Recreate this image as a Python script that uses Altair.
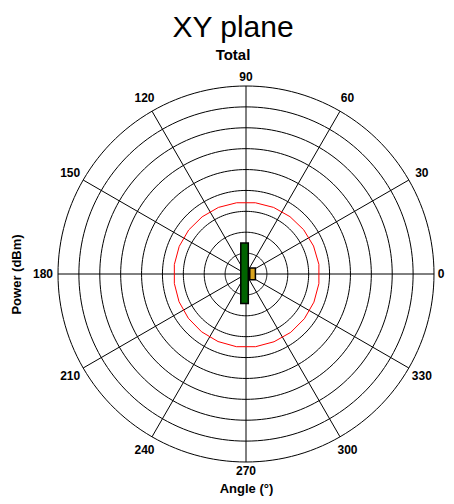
import numpy as np
import pandas as pd
import altair as alt

# ---- data ----
ring_levels = [1, 2, 3, 4, 5, 6, 7, 8, 9]            # concentric grid rings
angle_ticks = [0, 30, 60, 90, 120, 150, 180, 210, 240, 270, 300, 330]
angle_labels = ["0", "30", "60", "90", "120", "150", "180", "210", "240", "270", "300", "330"]

# red trace (Total): angle (deg) and radial value (ring units)
red_angles = [7.5, 22.5, 37.5, 52.5, 67.5, 82.5, 97.5, 112.5, 127.5, 142.5, 157.5, 172.5,
              187.5, 202.5, 217.5, 232.5, 247.5, 262.5, 277.5, 292.5, 307.5, 322.5, 337.5, 352.5]
red_values = [3.52, 3.50, 3.48, 3.46, 3.45, 3.44, 3.44, 3.45, 3.45, 3.46, 3.46, 3.46,
              3.46, 3.47, 3.48, 3.49, 3.50, 3.51, 3.51, 3.51, 3.52, 3.52, 3.52, 3.52]

# two boxes at the centre: [x_low, x_high, y_low, y_high] in ring units
box_names = ["green", "yellow"]
box_x_low = [-0.25, 0.18]
box_x_high = [0.11, 0.45]
box_y_low = [-1.41, -0.27]
box_y_high = [1.48, 0.29]
box_colors = ["#006400", "#DAA520"]

R = 9
FONT = "Liberation Sans"
VIEW = 376
U = VIEW / (2 * R)  # px per ring unit
PAD = {"left": 50, "top": 78, "right": 12, "bottom": 34}

# ---- build tables ----
t = np.linspace(0, 2 * np.pi, 181)
rows = []
for r in ring_levels:
    for k, a in enumerate(t):
        rows.append({"ring": r, "k": k, "x": r * np.cos(a), "y": r * np.sin(a)})
rings_df = pd.DataFrame(rows)

rad = np.deg2rad(angle_ticks)
spokes_df = pd.DataFrame({"x": 0.0, "y": 0.0, "x2": R * np.cos(rad), "y2": R * np.sin(rad)})

# label distance from centre (px): a little closer at top/bottom, and kept inside the canvas on the right
lab_px = np.where(np.isclose(np.abs(np.sin(rad)), 1.0), 197.0, 203.0)
room_right = VIEW / 2 + PAD["right"] - 5
lab_px = np.where(np.cos(rad) > 0.99, np.minimum(lab_px, room_right), lab_px)
lab_r = lab_px / U
labels_df = pd.DataFrame({"label": angle_labels, "x": lab_r * np.cos(rad), "y": lab_r * np.sin(rad)})

ra = np.deg2rad(red_angles + red_angles[:1])
rv = np.array(red_values + red_values[:1])
red_df = pd.DataFrame({"k": range(len(ra)), "x": rv * np.cos(ra), "y": rv * np.sin(ra)})

box_df = pd.DataFrame({"name": box_names, "x": box_x_low, "x2": box_x_high,
                       "y": box_y_low, "y2": box_y_high})

xscale = alt.Scale(domain=[-R, R], nice=False, zero=False)
yscale = alt.Scale(domain=[-R, R], nice=False, zero=False)
xaxis = alt.Axis(title="Angle (°)", labels=False, ticks=False, domain=False, grid=False,
                 titleFont=FONT, titleFontSize=13, titleFontWeight="bold", titleColor="black",
                 titlePadding=20)
yaxis = alt.Axis(title="Power  (dBm)", labels=False, ticks=False, domain=False, grid=False,
                 titleFont=FONT, titleFontSize=13, titleFontWeight="bold", titleColor="black",
                 titlePadding=35)

X = lambda f: alt.X(f, type="quantitative", scale=xscale, axis=xaxis)
Y = lambda f: alt.Y(f, type="quantitative", scale=yscale, axis=yaxis)

rings = alt.Chart(rings_df).mark_line(color="black", strokeWidth=1).encode(
    x=X("x"), y=Y("y"), detail="ring:N", order="k:Q")
spokes = alt.Chart(spokes_df).mark_rule(color="black", strokeWidth=1).encode(
    x=X("x"), y=Y("y"), x2="x2", y2="y2")
red = alt.Chart(red_df).mark_line(color="#FF0000", strokeWidth=1).encode(
    x=X("x"), y=Y("y"), order="k:Q")
boxes = alt.Chart(box_df).mark_rect(stroke="black", strokeWidth=1.5).encode(
    x=X("x"), x2="x2", y=Y("y"), y2="y2",
    fill=alt.Fill("name:N", scale=alt.Scale(domain=box_names, range=box_colors), legend=None))
labels = alt.Chart(labels_df).mark_text(font=FONT, fontSize=12, fontWeight="bold", color="black",
                                        align="center", baseline="middle").encode(
    x=X("x"), y=Y("y"), text="label:N")

chart = alt.layer(rings, spokes, red, boxes, labels).properties(
    width=VIEW, height=VIEW,
    autosize=alt.AutoSizeParams(type="none"),
    padding=PAD,
    title=alt.Title("XY plane", subtitle="Total", font=FONT, fontSize=30, fontWeight="normal",
                    color="black", subtitleFont=FONT, subtitleFontSize=15,
                    subtitleFontWeight="bold", subtitleColor="black",
                    anchor="middle", offset=8, subtitlePadding=5, dx=-13),
).configure_view(stroke=None)

chart.save("out.html", embed_options={"renderer": "svg", "actions": False})
